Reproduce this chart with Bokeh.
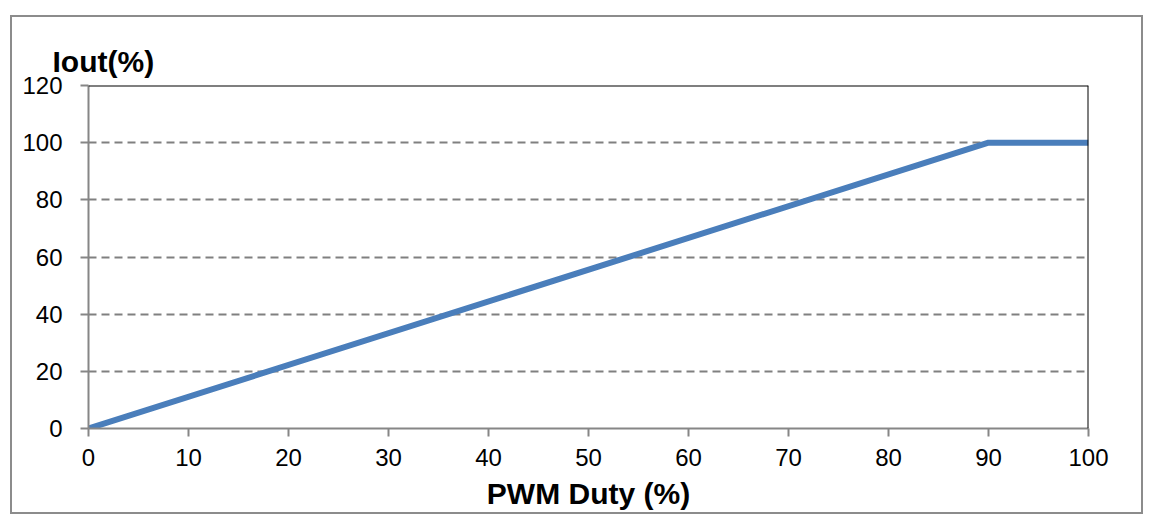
from bokeh.plotting import figure
from bokeh.models import Range1d, FixedTicker, Span, Title
from bokeh.embed import file_html
from bokeh.resources import INLINE

duty = [0, 90, 100]
iout = [0, 100, 100]
x_ticks = [0, 10, 20, 30, 40, 50, 60, 70, 80, 90, 100]
y_ticks = [0, 20, 40, 60, 80, 100, 120]

FONT = "Liberation Sans"
GRAY = "#868686"

p = figure(
    output_backend="svg", toolbar_location=None,
    width=1129, height=495,
    x_range=Range1d(0, 100), y_range=Range1d(0, 120),
    min_border_left=76, min_border_right=53, min_border_top=68, min_border_bottom=84,
    frame_width=1000, frame_height=343,
    styles={"margin-left": "12px", "margin-top": "17px", "outline": "2px solid #8c8c8c"},
)
p.outline_line_color = None
p.background_fill_color = "white"
p.border_fill_color = "white"

t = Title(text="Iout(%)", text_font=FONT, text_font_size="30px", text_font_style="bold",
          text_color="black", align="left", offset=-36, standoff=15)
p.add_layout(t, "above")

p.xaxis.axis_label = "PWM Duty (%)"
p.xaxis.axis_label_text_font = FONT
p.xaxis.axis_label_text_font_size = "30px"
p.xaxis.axis_label_text_font_style = "bold"
p.xaxis.axis_label_text_color = "black"
p.xaxis.axis_label_standoff = 8

for ax in (p.xaxis, p.yaxis):
    ax.axis_line_color = GRAY
    ax.axis_line_width = 2
    ax.major_tick_line_color = GRAY
    ax.major_tick_line_width = 2
    ax.major_tick_out = 8
    ax.major_tick_in = 0
    ax.minor_tick_line_color = None
    ax.major_label_text_font = FONT
    ax.major_label_text_font_size = "24px"
    ax.major_label_text_color = "black"

p.xaxis.ticker = FixedTicker(ticks=x_ticks)
p.yaxis.ticker = FixedTicker(ticks=y_ticks)
p.xaxis.major_label_standoff = 12
p.yaxis.major_label_standoff = 18

p.xgrid.grid_line_color = None
p.ygrid.ticker = FixedTicker(ticks=y_ticks[1:-1])
p.ygrid.grid_line_color = "#808080"
p.ygrid.grid_line_width = 2
p.ygrid.grid_line_dash = "8 5"

p.add_layout(Span(location=120, dimension="width", line_color="black", line_width=2))
p.add_layout(Span(location=100, dimension="height", line_color="black", line_width=2))

p.line(duty, iout, line_color="#4a7ebb", line_width=6, line_join="round")

open("out.html", "w").write(file_html(p, INLINE))
